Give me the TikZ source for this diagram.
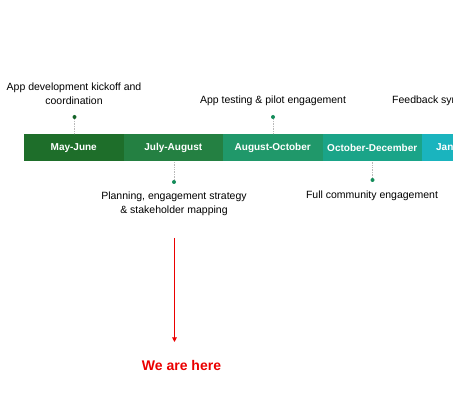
\documentclass[tikz,border=0pt]{standalone}
\usepackage{fontspec}
\setmainfont{Liberation Sans}
\usetikzlibrary{arrows.meta}
\definecolor{segA}{RGB}{30,110,42}
\definecolor{segB}{RGB}{36,128,66}
\definecolor{segC}{RGB}{32,152,106}
\definecolor{segD}{RGB}{26,164,136}
\definecolor{segE}{RGB}{26,180,190}
\definecolor{dotA}{RGB}{20,100,40}
\definecolor{dotB}{RGB}{20,140,90}
\definecolor{here}{RGB}{235,0,0}
\tikzset{
  seg/.style={minimum width=99.5pt, minimum height=27pt, inner sep=0pt, outer sep=0pt,
    text=white, font=\fontsize{10}{11}\selectfont\bfseries, anchor=west},
  lbl/.style={font=\fontsize{10.5}{14}\selectfont, align=center, inner sep=0pt},
  lead/.style={draw=gray!55, densely dotted, line width=0.7pt},
  dotn/.style={circle, fill=#1, inner sep=0pt, minimum size=4pt}
}
\begin{document}
\begin{tikzpicture}[x=1pt,y=-1pt]
\useasboundingbox (0,0) rectangle (453,406);
\fill[white] (0,0) rectangle (453,406);
\begin{scope}
\clip (0,0) rectangle (453,406);
\node[seg, fill=segA] (s1) at (24,148) {May-June};
\node[seg, fill=segB] (s2) at (s1.east) {July-August};
\node[seg, fill=segC] (s3) at (s2.east) {August-October};
\node[seg, fill=segD] (s4) at (s3.east) {October-December};
\node[seg, fill=segE] (s5) at (s4.east) {January-March};
\node[lbl, anchor=west] (t5) at (392,101) {Feedback synthesis};
\end{scope}
% top milestones
\node[dotn=dotA] (d1) at (74.5,117) {};
\draw[lead] (d1) -- (d1 |- s1.north);
\node[lbl] (t1) at (74,94) {App development kickoff and\\coordination};
\node[dotn=dotB] (d3) at (273,117) {};
\draw[lead] (d3) -- (d3 |- s3.north);
\node[lbl] (t3) at (273,101) {App testing \& pilot engagement};
% bottom milestones
\node[dotn=dotB] (d2) at (174,182) {};
\draw[lead] (d2) -- (d2 |- s2.south);
\node[lbl] (t2) at (174,203.5) {Planning, engagement strategy\\\& stakeholder mapping};
\node[dotn=dotB] (d4) at (372.5,180) {};
\draw[lead] (d4) -- (d4 |- s4.south);
\node[lbl] (t4) at (372,196) {Full community engagement};
% we are here
\coordinate (a0) at (174.5,238);
\node[font=\fontsize{14}{16}\selectfont\bfseries, text=here, inner sep=0pt] (wah) at (181.5,365) {We are here};
\draw[here, line width=1pt, -{Triangle[length=4.5pt,width=4.5pt]}] (a0) -- (174.5,342);
\end{tikzpicture}
\end{document}
